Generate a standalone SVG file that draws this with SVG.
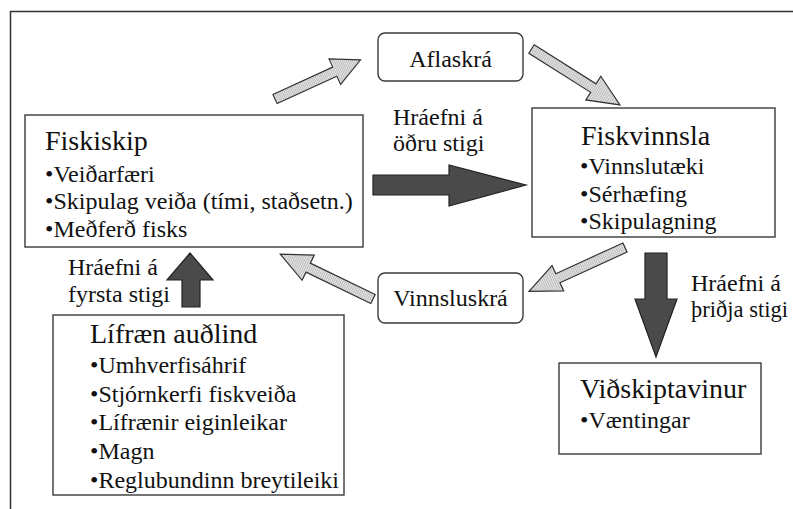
<svg xmlns="http://www.w3.org/2000/svg" width="793" height="509" viewBox="0 0 793 509">
<defs>
<pattern id="hatch" width="2" height="2" patternUnits="userSpaceOnUse">
<rect width="2" height="2" fill="#e6e6e6"/>
<rect width="1" height="2" fill="#bdbdbd"/>
</pattern>
<polygon id="light" points="0,-5 72,-5 72,-14 103,0 72,14 72,5 0,5"/>
</defs>
<style>
.frame{fill:none;stroke:#333;stroke-width:1.5}
.box{fill:#fff;stroke:#3a3a3a;stroke-width:1.4}
.rbox{fill:#fff;stroke:#3a3a3a;stroke-width:1.4}
.la{fill:url(#hatch);stroke:#333;stroke-width:1.2}
.da{fill:#4a4a4a;stroke:#222;stroke-width:1.2}
.h{font-family:"Liberation Serif","Times New Roman",serif;font-size:28px;fill:#111}
.t{font-family:"Liberation Serif","Times New Roman",serif;font-size:24px;fill:#111}
</style>
<path class="frame" d="M10.5,509 V11.5 H793"/>
<g id="connectors">
<use href="#light" class="la" transform="translate(275,99) rotate(-24.6) scale(0.913,1)"/>
<use href="#light" class="la" transform="translate(531.5,49) rotate(32.3) scale(1.016,1)"/>
<use href="#light" class="la" transform="translate(625,247.5) rotate(155.4) scale(1.025,1)"/>
<use href="#light" class="la" transform="translate(373,299) rotate(-154.2) scale(1.0,1)"/>
<polygon class="da" points="373,175 449,175 449,165 526,185 449,206 449,195 373,195"/>
<polygon class="da" points="182,307 182,280 167,280 190,253 213,280 200,280 200,307"/>
<polygon class="da" points="645,253 667,253 667,299 677,299 656,357 635,299 645,299"/>
</g>
<g id="aflaskra">
<rect class="rbox" x="378" y="33" width="145" height="48" rx="7"/>
<text class="t" x="450.5" y="67" text-anchor="middle">Aflaskrá</text>
</g>
<g id="vinnsluskra">
<rect class="rbox" x="378" y="273" width="145" height="50" rx="7"/>
<text class="t" x="450.5" y="306" text-anchor="middle">Vinnsluskrá</text>
</g>
<g id="fiskiskip">
<rect class="box" x="25" y="115" width="338" height="132"/>
<text class="h" x="45" y="150">Fiskiskip</text>
<text class="t" x="45" y="182">•Veiðarfæri</text>
<text class="t" x="45" y="209">•Skipulag veiða (tími, staðsetn.)</text>
<text class="t" x="45" y="237">•Meðferð fisks</text>
</g>
<g id="fiskvinnsla">
<rect class="box" x="532" y="108" width="243" height="129"/>
<text class="h" x="581" y="145">Fiskvinnsla</text>
<text class="t" x="580" y="174">•Vinnslutæki</text>
<text class="t" x="580" y="202">•Sérhæfing</text>
<text class="t" x="580" y="229">•Skipulagning</text>
</g>
<g id="lifraen">
<rect class="box" x="53" y="315" width="291" height="180"/>
<text class="h" x="90" y="343">Lífræn auðlind</text>
<text class="t" x="90" y="373">•Umhverfisáhrif</text>
<text class="t" x="90" y="402">•Stjórnkerfi fiskveiða</text>
<text class="t" x="90" y="430">•Lífrænir eiginleikar</text>
<text class="t" x="90" y="459">•Magn</text>
<text class="t" x="90" y="488">•Reglubundinn breytileiki</text>
</g>
<g id="vidskiptavinur">
<rect class="box" x="559" y="363" width="202" height="91"/>
<text class="h" x="580" y="398">Viðskiptavinur</text>
<text class="t" x="580" y="428">•Væntingar</text>
</g>
<g id="labels">
<text class="t" x="393" y="125">Hráefni á</text>
<text class="t" x="393" y="151">öðru stigi</text>
<text class="t" x="68" y="275">Hráefni á</text>
<text class="t" x="68" y="302">fyrsta stigi</text>
<text class="t" x="691" y="291">Hráefni á</text>
<text class="t" x="691" y="317" textLength="97" lengthAdjust="spacingAndGlyphs">þriðja stigi</text>
</g>
</svg>
